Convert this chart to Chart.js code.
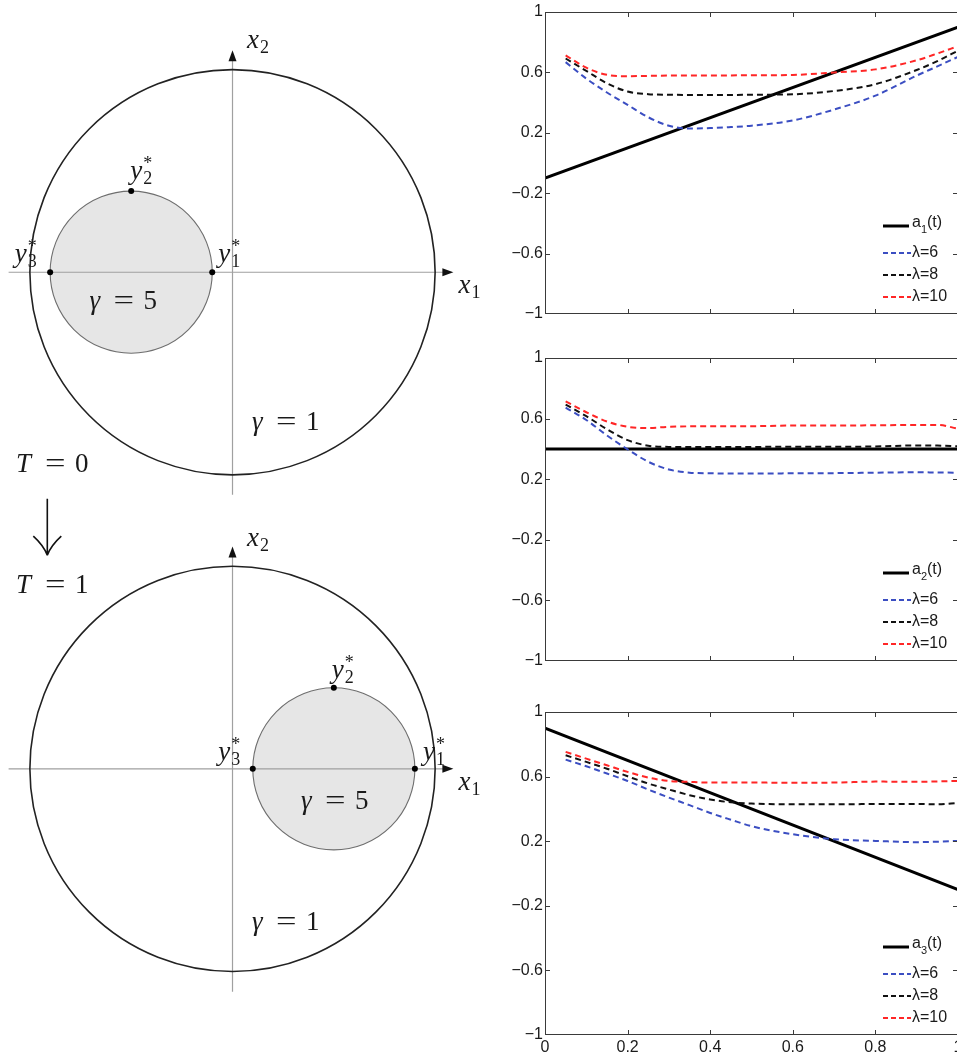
<!DOCTYPE html>
<html>
<head>
<meta charset="utf-8">
<script src="https://cdn.jsdelivr.net/npm/chart.js@4.4.0/dist/chart.umd.min.js"></script>
<style>
  html, body { margin: 0; padding: 0; background: #fff; overflow: hidden; }
  #page { position: relative; width: 957px; height: 1058px; overflow: hidden; }
  canvas { position: absolute; }
</style>
</head>
<body>
<div id="page">
  <canvas id="diagT0" width="490" height="510" style="left:0px;top:0px"></canvas>
  <canvas id="diagT1" width="490" height="568" style="left:0px;top:490px"></canvas>
  <canvas id="chartA1" width="458" height="345" style="left:500px;top:0px"></canvas>
  <canvas id="chartA2" width="458" height="350" style="left:500px;top:345px"></canvas>
  <canvas id="chartA3" width="458" height="363" style="left:500px;top:695px"></canvas>
</div>
<script>
// ---- right panels: reconstructed coefficients ----
const tSamples = [0.05, 0.1, 0.15, 0.2, 0.25, 0.3, 0.35, 0.4, 0.45, 0.5, 0.6, 0.7, 0.8, 0.9, 0.95, 1.0];

const lam6A1  = [0.668, 0.559, 0.467, 0.385, 0.303, 0.247, 0.229, 0.231, 0.238, 0.247, 0.282, 0.354, 0.446, 0.579, 0.640, 0.703];
const lam8A1  = [0.692, 0.610, 0.528, 0.473, 0.456, 0.452, 0.451, 0.451, 0.451, 0.452, 0.455, 0.477, 0.522, 0.616, 0.675, 0.744];
const lam10A1 = [0.713, 0.631, 0.584, 0.575, 0.577, 0.579, 0.579, 0.579, 0.580, 0.581, 0.583, 0.600, 0.620, 0.680, 0.725, 0.774];

const lam6A2  = [0.673, 0.591, 0.489, 0.397, 0.315, 0.264, 0.243, 0.239, 0.237, 0.237, 0.239, 0.240, 0.243, 0.246, 0.244, 0.243];
const lam8A2  = [0.693, 0.616, 0.530, 0.458, 0.421, 0.413, 0.412, 0.412, 0.413, 0.413, 0.415, 0.414, 0.416, 0.423, 0.422, 0.417];
const lam10A2 = [0.714, 0.642, 0.581, 0.546, 0.538, 0.546, 0.549, 0.550, 0.550, 0.550, 0.554, 0.554, 0.556, 0.558, 0.558, 0.534];

const lam6A3  = [0.705, 0.664, 0.619, 0.573, 0.520, 0.470, 0.423, 0.375, 0.333, 0.293, 0.243, 0.212, 0.202, 0.194, 0.197, 0.202];
const lam8A3  = [0.732, 0.691, 0.649, 0.602, 0.557, 0.520, 0.485, 0.458, 0.441, 0.433, 0.429, 0.429, 0.430, 0.431, 0.428, 0.437];
const lam10A3 = [0.753, 0.711, 0.670, 0.629, 0.594, 0.573, 0.567, 0.563, 0.563, 0.563, 0.562, 0.563, 0.569, 0.568, 0.570, 0.573];

// exact coefficients a_i(t)
const aT = [0, 1];
const a1 = [-0.1, 0.9];
const a2 = [0.4, 0.4];
const a3 = [0.9, -0.1];

const yTicks = [-1, -0.6, -0.2, 0.2, 0.6, 1];
const xTicks = [0, 0.2, 0.4, 0.6, 0.8, 1];
const lambdaNames = ['λ=6', 'λ=8', 'λ=10'];

// ---- left panels: unit disk with inclusion ----
const outerR = 1;
const innerR = 0.4;
const innerCx = [-0.5, 0.5];          // T=0, T=1
const starX0 = [-0.1, -0.5, -0.9];    // y1*, y2*, y3* at T=0
const starY0 = [0, 0.4, 0];
const starX1 = [0.9, 0.5, 0.1];       // y1*, y2*, y3* at T=1
const starY1 = [0, 0.4, 0];

const lineColors = ['#3b4ec2', '#111111', '#ff2626'];
const SERIF = '"Liberation Serif", "DejaVu Serif", serif';
const SANS = '"Liberation Sans", Arial, sans-serif';

const fmtTick = v => (v < 0 ? '\u2212' + Math.abs(v) : String(v));
const toXY = (xs, ys) => xs.map((x, i) => ({x: x, y: ys[i]}));

// box + inward ticks on all four sides
const boxPlugin = {
    id: 'box',
    afterDatasetsDraw(chart) {
        const {ctx, chartArea: a} = chart;
        const sx = chart.scales.x, sy = chart.scales.y;
        ctx.save();
        ctx.strokeStyle = '#3a3a3a';
        ctx.lineWidth = 1;
        ctx.strokeRect(a.left + 0.5, a.top + 0.5, a.right - a.left - 1, a.bottom - a.top - 1);
        ctx.beginPath();
        yTicks.slice(1, -1).forEach(v => {
            const y = Math.round(sy.getPixelForValue(v)) + 0.5;
            ctx.moveTo(a.left, y); ctx.lineTo(a.left + 5, y);
            ctx.moveTo(a.right - 5, y); ctx.lineTo(a.right, y);
        });
        xTicks.slice(1, -1).forEach(v => {
            const x = Math.round(sx.getPixelForValue(v)) + 0.5;
            ctx.moveTo(x, a.top); ctx.lineTo(x, a.top + 5);
            ctx.moveTo(x, a.bottom - 5); ctx.lineTo(x, a.bottom);
        });
        ctx.stroke();
        ctx.restore();
    }
};

function legendPlugin(sub) {
    return {
        id: 'miniLegend',
        afterDatasetsDraw(chart) {
            const {ctx, chartArea: a} = chart;
            const x0 = a.right - 75, x1 = a.right - 49, tx = a.right - 46;
            ctx.save();
            ctx.textBaseline = 'middle';
            ctx.fillStyle = '#1a1a1a';
            // a_i(t)
            let y = a.bottom - 88;
            ctx.strokeStyle = '#000'; ctx.lineWidth = 3; ctx.setLineDash([]);
            ctx.beginPath(); ctx.moveTo(x0, y); ctx.lineTo(x1, y); ctx.stroke();
            ctx.font = '16px ' + SANS;
            ctx.fillText('a', tx, y - 3);
            let w = ctx.measureText('a').width;
            ctx.font = '11px ' + SANS;
            ctx.fillText(sub, tx + w, y + 4);
            w += ctx.measureText(sub).width;
            ctx.font = '16px ' + SANS;
            ctx.fillText('(t)', tx + w, y - 3);
            // lambda rows
            const rows = [a.bottom - 61, a.bottom - 39, a.bottom - 17];
            rows.forEach((ry, i) => {
                ctx.strokeStyle = lineColors[i]; ctx.lineWidth = 2; ctx.setLineDash([5, 3]);
                ctx.beginPath(); ctx.moveTo(x0, ry); ctx.lineTo(x1 + 2, ry); ctx.stroke();
                ctx.fillText(lambdaNames[i], tx, ry);
            });
            ctx.restore();
        }
    };
}

function panelChart(id, aVals, curves, sub, pad, showX) {
    const datasets = [{
        label: 'a' + sub + '(t)', data: toXY(aT, aVals), borderColor: '#000',
        borderWidth: 3, pointRadius: 0, order: 10
    }];
    curves.forEach((c, i) => {
        datasets.push({
            label: lambdaNames[i], data: toXY(tSamples, c), borderColor: lineColors[i],
            borderWidth: 2, borderDash: [6, 4], pointRadius: 0,
            cubicInterpolationMode: 'monotone', order: 3 - i
        });
    });
    new Chart(document.getElementById(id), {
        type: 'line',
        data: {datasets: datasets},
        options: {
            responsive: false, animation: false, events: [],
            layout: {padding: {top: pad[0], bottom: pad[1], left: 0, right: 0}},
            plugins: {legend: {display: false}, tooltip: {enabled: false}},
            scales: {
                x: {
                    type: 'linear', min: 0, max: 1, display: showX,
                    grid: {display: false, drawTicks: false}, border: {display: false},
                    afterBuildTicks: s => { s.ticks = xTicks.map(v => ({value: v})); },
                    afterFit: s => { s.height = 23; s.paddingLeft = 0; s.paddingRight = 0; },
                    ticks: {font: {family: SANS, size: 16}, color: '#1a1a1a', padding: 3,
                            maxRotation: 0, autoSkip: false, callback: fmtTick}
                },
                y: {
                    type: 'linear', min: -1, max: 1,
                    grid: {display: false, drawTicks: false}, border: {display: false},
                    afterBuildTicks: s => { s.ticks = yTicks.map(v => ({value: v})); },
                    afterFit: s => { s.width = 45; s.paddingTop = 0; s.paddingBottom = 0; },
                    ticks: {font: {family: SANS, size: 16}, color: '#1a1a1a', padding: 2,
                            autoSkip: false, callback: fmtTick}
                }
            }
        },
        plugins: [boxPlugin, legendPlugin(sub)]
    });
}

panelChart('chartA1', a1, [lam6A1, lam8A1, lam10A1], '1', [12, 8], false);
panelChart('chartA2', a2, [lam6A2, lam8A2, lam10A2], '2', [13, 11], false);
panelChart('chartA3', a3, [lam6A3, lam8A3, lam10A3], '3', [17, 0], true);

// ---- left diagrams ----
function drawMathLabel(ctx, px, py, lab) {
    ctx.save();
    ctx.fillStyle = '#1a1a1a';
    ctx.textBaseline = 'alphabetic';
    ctx.textAlign = 'left';
    if (lab.kind === 'eq') {
        ctx.font = 'italic 27px ' + SERIF;
        ctx.fillText(lab.lhs, px, py);
        const gap = lab.lhs === 'T' ? 29 : 24;
        ctx.font = '27px ' + SERIF;
        ctx.save(); ctx.translate(px + gap, py); ctx.scale(1.35, 1); ctx.fillText('=', 0, 0); ctx.restore();
        ctx.fillText(lab.rhs, px + gap + 30, py);
    } else {
        ctx.font = 'italic 27px ' + SERIF;
        ctx.fillText(lab.base, px, py);
        const w = ctx.measureText(lab.base).width;
        ctx.font = '18px ' + SERIF;
        ctx.fillText(lab.sub, px + w + 1, py + 5);
        if (lab.star) ctx.fillText('*', px + w + 1, py - 10);
    }
    ctx.restore();
}

function diskPlugin(cx, labels, withArrow) {
    return {
        id: 'disks',
        beforeDatasetsDraw(chart) {
            const {ctx} = chart;
            const sx = chart.scales.x, sy = chart.scales.y;
            const px = v => sx.getPixelForValue(v), py = v => sy.getPixelForValue(v);
            const unit = px(1) - px(0);
            ctx.save();
            // inclusion fill
            ctx.beginPath();
            ctx.arc(px(cx), py(0), innerR * unit, 0, 2 * Math.PI);
            ctx.fillStyle = '#e6e6e6';
            ctx.fill();
            // coordinate axes
            ctx.strokeStyle = '#a0a0a0'; ctx.lineWidth = 1.2;
            ctx.beginPath();
            ctx.moveTo(px(-1.105), py(0)); ctx.lineTo(px(1.07), py(0));
            ctx.moveTo(px(0), py(-1.098)); ctx.lineTo(px(0), py(1.07));
            ctx.stroke();
            ctx.fillStyle = '#111';
            ctx.beginPath();
            ctx.moveTo(px(1.09), py(0)); ctx.lineTo(px(1.09) - 11, py(0) - 4); ctx.lineTo(px(1.09) - 11, py(0) + 4);
            ctx.closePath(); ctx.fill();
            ctx.beginPath();
            ctx.moveTo(px(0), py(1.095)); ctx.lineTo(px(0) - 4, py(1.095) + 11); ctx.lineTo(px(0) + 4, py(1.095) + 11);
            ctx.closePath(); ctx.fill();
            // inclusion boundary
            ctx.beginPath();
            ctx.arc(px(cx), py(0), innerR * unit, 0, 2 * Math.PI);
            ctx.strokeStyle = '#6e6e6e'; ctx.lineWidth = 1.1;
            ctx.stroke();
            // outer domain boundary
            ctx.beginPath();
            ctx.arc(px(0), py(0), outerR * unit, 0, 2 * Math.PI);
            ctx.strokeStyle = '#222'; ctx.lineWidth = 1.6;
            ctx.stroke();
            if (withArrow) {
                const ax = px(-0.914), top = py(1.33), tip = py(1.052);
                ctx.strokeStyle = '#111'; ctx.lineWidth = 1.6;
                ctx.beginPath();
                ctx.moveTo(ax, top); ctx.lineTo(ax, tip);
                ctx.moveTo(ax - 14, tip - 19); ctx.quadraticCurveTo(ax - 4, tip - 10, ax, tip);
                ctx.moveTo(ax + 14, tip - 19); ctx.quadraticCurveTo(ax + 4, tip - 10, ax, tip);
                ctx.stroke();
            }
            ctx.restore();
        },
        afterDatasetsDraw(chart) {
            const sx = chart.scales.x, sy = chart.scales.y;
            labels.forEach(l => drawMathLabel(chart.ctx, sx.getPixelForValue(l.x), sy.getPixelForValue(l.y), l));
        }
    };
}

function diagram(id, yRange, cx, sX, sY, labels, withArrow) {
    new Chart(document.getElementById(id), {
        type: 'scatter',
        data: {datasets: [{data: toXY(sX, sY), pointRadius: 3, backgroundColor: '#000', borderWidth: 0}]},
        options: {
            responsive: false, animation: false, events: [],
            layout: {padding: 0},
            plugins: {legend: {display: false}, tooltip: {enabled: false}},
            scales: {
                x: {type: 'linear', min: -1.1277, max: 1.251, display: false},
                y: {type: 'linear', min: yRange[0], max: yRange[1], display: false}
            }
        },
        plugins: [diskPlugin(cx, labels, withArrow)]
    });
}

diagram('diagT0', [-1.1529, 1.3228], innerCx[0], starX0, starY0, [
    {kind: 'var', base: 'x', sub: '2', x: 0.071, y: 1.104},
    {kind: 'var', base: 'x', sub: '1', x: 1.115, y: -0.1},
    {kind: 'var', base: 'y', sub: '2', star: true, x: -0.505, y: 0.459},
    {kind: 'var', base: 'y', sub: '1', star: true, x: -0.07, y: 0.051},
    {kind: 'var', base: 'y', sub: '3', star: true, x: -1.075, y: 0.051},
    {kind: 'eq', lhs: 'γ', rhs: '5', x: -0.706, y: -0.182},
    {kind: 'eq', lhs: 'γ', rhs: '1', x: 0.096, y: -0.779},
    {kind: 'eq', lhs: 'T', rhs: '0', x: -1.069, y: -0.983}
], false);

diagram('diagT1', [-1.4039, 1.3534], innerCx[1], starX1, starY1, [
    {kind: 'var', base: 'x', sub: '2', x: 0.071, y: 1.095},
    {kind: 'var', base: 'x', sub: '1', x: 1.115, y: -0.103},
    {kind: 'var', base: 'y', sub: '2', star: true, x: 0.49, y: 0.447},
    {kind: 'var', base: 'y', sub: '3', star: true, x: -0.07, y: 0.043},
    {kind: 'var', base: 'y', sub: '1', star: true, x: 0.94, y: 0.043},
    {kind: 'eq', lhs: 'γ', rhs: '5', x: 0.338, y: -0.2},
    {kind: 'eq', lhs: 'γ', rhs: '1', x: 0.096, y: -0.791},
    {kind: 'eq', lhs: 'T', rhs: '1', x: -1.069, y: 0.865}
], true);
</script>
</body>
</html>
